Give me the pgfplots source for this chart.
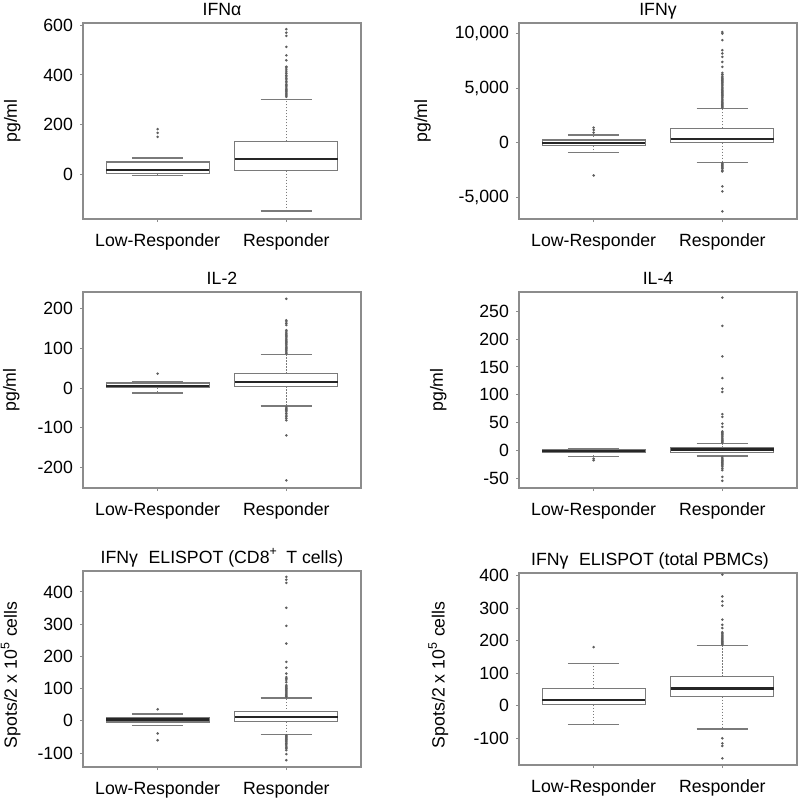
\documentclass[border=0pt]{standalone}
\usepackage{fontspec}
\setmainfont{Liberation Sans}
\usepackage{pgfplots}
\pgfplotsset{compat=1.18}
\usepgfplotslibrary{statistics}

\definecolor{framegray}{HTML}{8C8C8C}
\definecolor{boxgray}{HTML}{7A7A7A}
\definecolor{dotgray}{HTML}{5E5E5E}

\newcommand{\fs}{\fontsize{8.85}{10.6}\selectfont}

\pgfplotsset{
  panel/.style={
    scale only axis, width=139pt, height=98pt,
    xmin=0.42, xmax=2.58,
    xtick={1,2}, xticklabels={Low-Responder,Responder},
    xtick pos=bottom, ytick pos=left, tick align=outside,
    major tick length=1.5pt,
    axis line style={framegray, line width=0.6pt},
    every tick/.style={framegray, line width=0.5pt},
    tick label style={font=\fs},
    xticklabel style={yshift=-2.3pt},
    /pgf/number format/assume math mode=true,
    yticklabel style={/pgf/number format/1000 sep={,}},
    title style={font=\fs, at={(0.5,1)}, anchor=base, yshift=-2.3pt},
    ylabel style={font=\fs, anchor=center},
    boxplot/draw direction=y,
    boxplot/box extend=0.8,
    boxplot/whisker extend=0.4,
    boxplot/every box/.style={draw=boxgray, fill=white, line width=0.6pt},
    boxplot/every median/.style={draw=black!85, line width=1.1pt},
    boxplot/draw/lower whisker/.code={%
      \draw[boxgray, line width=0.45pt, dash pattern=on 0.6pt off 0.9pt]
        (boxplot box cs:\pgfplotsboxplotvalue{lower quartile},0.5) --
        (boxplot box cs:\pgfplotsboxplotvalue{lower whisker},0.5);
      \draw[boxgray, line width=0.6pt]
        (boxplot whisker cs:\pgfplotsboxplotvalue{lower whisker},0) --
        (boxplot whisker cs:\pgfplotsboxplotvalue{lower whisker},1);
    },
    boxplot/draw/upper whisker/.code={%
      \draw[boxgray, line width=0.45pt, dash pattern=on 0.6pt off 0.9pt]
        (boxplot box cs:\pgfplotsboxplotvalue{upper quartile},0.5) --
        (boxplot box cs:\pgfplotsboxplotvalue{upper whisker},0.5);
      \draw[boxgray, line width=0.6pt]
        (boxplot whisker cs:\pgfplotsboxplotvalue{upper whisker},0) --
        (boxplot whisker cs:\pgfplotsboxplotvalue{upper whisker},1);
    },
  },
  bx/.style={mark=*, mark size=0.42pt, mark options={draw=dotgray, fill=dotgray}},
}

\begin{document}
\begin{tikzpicture}
\useasboundingbox (0pt,0pt) rectangle (400pt,-399.5pt);

% IFN alpha
\begin{axis}[panel, at={(41.5pt,-11.5pt)}, anchor=north west,
  ymin=-179.5, ymax=609, ytick={0,200,400,600},
  title={IFNα}, ylabel={pg/ml},
  ylabel style={at={(axis description cs:-0.254,0.5)}}]
\addplot[bx, boxplot prepared={draw position=1, lower whisker=-5.4, lower quartile=2.7,
  median=18.7, upper quartile=49.5, upper whisker=65.6}]
  table[row sep=\\, y index=0] {y\\ 151\\ 167\\ 182\\};
\addplot[bx, boxplot prepared={draw position=2, lower whisker=-147, lower quartile=14.7,
  median=61.6, upper quartile=132.6, upper whisker=302.7}]
  table[row sep=\\, y index=0] {y\\ 312\\ 316\\ 320\\ 324\\ 328\\ 333\\ 338\\ 342\\ 347\\ 352\\
  357\\ 362\\ 368\\ 374\\ 380\\ 386\\ 392\\ 398\\ 405\\ 412\\ 420\\ 428\\ 433\\ 459\\ 479\\
  513\\ 557\\ 570\\ 584\\};
\end{axis}

% IFN gamma
\begin{axis}[panel, at={(259.5pt,-11.5pt)}, anchor=north west,
  ymin=-7012, ymax=10976, ytick={-5000,0,5000,10000},
  scaled y ticks=false,
  title={IFNγ}, ylabel={pg/ml},
  ylabel style={at={(axis description cs:-0.347,0.5)}}]
\addplot[bx, boxplot prepared={draw position=1, lower whisker=-915, lower quartile=-274,
  median=-61, upper quartile=244, upper whisker=701}]
  table[row sep=\\, y index=0] {y\\ 915\\ 1159\\ 1372\\ -3018\\};
\addplot[bx, boxplot prepared={draw position=2, lower whisker=-1799, lower quartile=0,
  median=305, upper quartile=1311, upper whisker=3140}]
  table[row sep=\\, y index=0] {y\\ 3200\\ 3300\\ 3400\\ 3500\\ 3600\\ 3700\\ 3800\\ 3900\\
  4000\\ 4100\\ 4200\\ 4300\\ 4400\\ 4500\\ 4600\\ 4700\\ 4800\\ 4900\\ 5000\\ 5100\\ 5200\\
  5300\\ 5400\\ 5500\\ 5600\\ 5700\\ 5800\\ 5900\\ 6000\\ 6100\\ 6250\\ 6400\\ 6950\\ 7400\\
  7870\\ 8180\\ 8480\\ 9400\\ 10000\\ 10150\\ -1900\\ -2000\\ -2100\\ -2200\\ -2300\\ -2400\\
  -2550\\ -2650\\ -4020\\ -4480\\ -6310\\};
\end{axis}

% IL-2
\begin{axis}[panel, at={(41.5pt,-146pt)}, anchor=north west,
  ymin=-251, ymax=241, ytick={-200,-100,0,100,200},
  title={IL-2}, ylabel={pg/ml},
  ylabel style={at={(axis description cs:-0.258,0.5)}}]
\addplot[bx, boxplot prepared={draw position=1, lower whisker=-12.6, lower quartile=0.5,
  median=4.2, upper quartile=12.6, upper whisker=15}]
  table[row sep=\\, y index=0] {y\\ 36\\};
\addplot[bx, boxplot prepared={draw position=2, lower whisker=-45.2, lower quartile=4.2,
  median=15, upper quartile=36, upper whisker=84.5}]
  table[row sep=\\, y index=0] {y\\ 87\\ 90\\ 93\\ 96\\ 99\\ 102\\ 105\\ 108\\ 111\\ 114\\
  117\\ 120\\ 123\\ 126\\ 129\\ 132\\ 135\\ 138\\ 141\\ 145\\ 158\\ 162\\ 166\\ 170\\ 224\\
  -48\\ -51\\ -54\\ -57\\ -60\\ -64\\ -68\\ -72\\ -76\\ -81\\ -119\\ -232\\};
\end{axis}

% IL-4
\begin{axis}[panel, at={(259.5pt,-146pt)}, anchor=north west,
  ymin=-68, ymax=285, ytick={-50,0,50,100,150,200,250},
  title={IL-4}, ylabel={pg/ml},
  ylabel style={at={(axis description cs:-0.29,0.5)}}]
\addplot[bx, boxplot prepared={draw position=1, lower whisker=-11, lower quartile=-3.5,
  median=-1.5, upper quartile=1, upper whisker=3}]
  table[row sep=\\, y index=0] {y\\ -15\\ -18\\};
\addplot[bx, boxplot prepared={draw position=2, lower whisker=-10.2, lower quartile=-3.6,
  median=1.2, upper quartile=4.8, upper whisker=12.7}]
  table[row sep=\\, y index=0] {y\\ 14\\ 16\\ 18\\ 20\\ 22\\ 24\\ 26\\ 28\\ 30\\ 32\\ 34\\
  42\\ 48\\ 60\\ 65\\ 105\\ 111\\ 130\\ 169\\ 224\\ 275\\ -12\\ -14\\ -16\\ -18\\ -20\\ -22\\
  -24\\ -26\\ -28\\ -30\\ -33\\ -36\\ -48\\ -55\\};
\end{axis}

% ELISPOT CD8
\begin{axis}[panel, at={(41.5pt,-285.5pt)}, anchor=north west,
  ymin=-143, ymax=465, ytick={-100,0,100,200,300,400},
  title={IFNγ\hspace{0.6em}ELISPOT (CD8\textsuperscript{+}\hspace{0.2em} T cells)},
  ylabel={Spots/2 x 10\textsuperscript{5} cells},
  ylabel style={at={(axis description cs:-0.26,0.47)}}]
\addplot[bx, boxplot prepared={draw position=1, lower whisker=-14.5, lower quartile=-3.1,
  median=4.1, upper quartile=9.3, upper whisker=21.7}]
  table[row sep=\\, y index=0] {y\\ 36\\ -39\\ -60\\};
\addplot[bx, boxplot prepared={draw position=2, lower whisker=-42.4, lower quartile=-2,
  median=11.4, upper quartile=28, upper whisker=71.3}]
  table[row sep=\\, y index=0] {y\\ 75\\ 78\\ 81\\ 84\\ 87\\ 90\\ 93\\ 96\\ 99\\ 102\\ 105\\
  108\\ 111\\ 120\\ 127\\ 131\\ 136\\ 147\\ 165\\ 183\\ 240\\ 295\\ 351\\ 428\\ 438\\ 447\\
  -45\\ -48\\ -51\\ -54\\ -57\\ -60\\ -63\\ -66\\ -70\\ -74\\ -78\\ -82\\ -86\\ -91\\ -103\\ -122\\};
\end{axis}

% ELISPOT PBMC
\begin{axis}[panel, at={(259.5pt,-286.5pt)}, anchor=north west, height=96pt,
  ymin=-181.5, ymax=408, ytick={-100,0,100,200,300,400},
  title={IFNγ\hspace{0.6em}ELISPOT (total PBMCs)},
  title style={xshift=-4pt},
  ylabel={Spots/2 x 10\textsuperscript{5} cells},
  ylabel style={at={(axis description cs:-0.29,0.47)}}]
\addplot[bx, boxplot prepared={draw position=1, lower whisker=-56.4, lower quartile=3.1,
  median=18.5, upper quartile=54.4, upper whisker=131}]
  table[row sep=\\, y index=0] {y\\ 180.5\\};
\addplot[bx, boxplot prepared={draw position=2, lower whisker=-70.8, lower quartile=28.7,
  median=53.3, upper quartile=90, upper whisker=184.6}]
  table[row sep=\\, y index=0] {y\\ 188\\ 191\\ 194\\ 197\\ 200\\ 203\\ 206\\ 209\\ 212\\
  215\\ 218\\ 222\\ 226\\ 239\\ 249\\ 265\\ 308\\ 321\\ 336\\ 403\\ -99.5\\ -115\\ -123\\ -161\\};
\end{axis}
\end{tikzpicture}
\end{document}
